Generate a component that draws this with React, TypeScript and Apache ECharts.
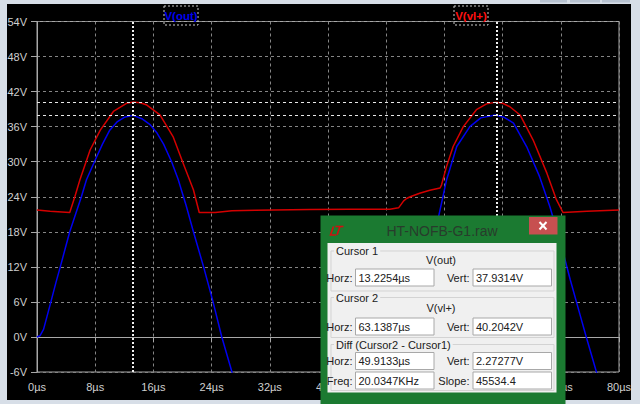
import React, { useEffect, useRef } from "react";
import * as echarts from "echarts";

// ---- data ----
const seriesNames = ["V(out)", "V(vl+)"];

const tOut = [0, 0.4, 0.9, 1.8, 2.6, 3.2, 4.5, 6.1, 6.8, 8.0, 9.0, 10.0, 11.0, 12.0, 13.2, 14.5, 15.5, 16.5, 17.4, 18.5, 19.4, 20.5, 21.5, 22.9, 24.2, 25.4, 26.8, 27.5,
  48.3, 49.0, 50.4, 51.9, 53.4, 54.8, 55.2, 56.3, 57.7, 59.5, 61.0, 63.0, 64.2, 65.5, 67.3, 69.1, 70.5, 72.1, 73.3, 74.6, 75.5, 76.9, 77.5];
const vOut = [0, 0.2, 1.3, 5.5, 9.3, 12.0, 18.0, 24.0, 26.9, 30.3, 33.0, 35.4, 36.8, 37.6, 37.93, 37.3, 36.4, 34.9, 33.0, 30.0, 27.0, 22.5, 18.0, 12.0, 6.0, 0, -6, -9,
  -9, -6, 0, 6, 12, 18, 20.6, 26.9, 32.6, 36.0, 37.5, 38.0, 37.6, 36.6, 32.6, 27.4, 22.3, 15.5, 9.8, 4.0, 0, -6, -9];

const tVl = [0, 1.8, 4.5, 5.2, 5.9, 7.3, 8.7, 10.5, 12.3, 13.2, 14.2, 15.1, 16.9, 18.7, 20.1, 21.5, 22.3, 24.5, 26.8, 30.0, 37.5, 43.0, 48.5, 49.7, 50.4, 50.8, 51.3, 52.6, 54.0, 55.4, 55.6,
  56.3, 57.2, 58.6, 60.4, 61.8, 63.1, 64.0, 65.0, 66.4, 68.2, 70.1, 71.4, 72.3, 75.6, 80];
const vVl = [21.75, 21.5, 21.3, 24.0, 26.9, 32.0, 35.4, 38.6, 40.0, 40.2, 40.1, 39.7, 38.0, 34.3, 29.7, 25.2, 21.3, 21.3, 21.6, 21.7, 21.8, 21.85, 21.85, 22.1, 23.3, 23.7, 24.0, 24.6, 25.1, 25.5, 26.0,
  29.2, 32.6, 36.0, 38.9, 39.9, 40.2, 40.0, 39.4, 38.0, 33.7, 28.0, 23.5, 21.3, 21.5, 21.75];

const cursorTimes = [13.2254, 63.1387];
const cursorVolts = [37.9314, 40.2042];
// x tick labels fully covered by the cursor dialog in the reference
const hiddenTimeTicks = [48, 56, 64];

const dialogTitle = "HT-NOFB-G1.raw";
const groupTitles = ["Cursor 1", "Cursor 2", "Diff (Cursor2 - Cursor1)"];
const traceNames = ["V(out)", "V(vl+)"];
const leftLabels = ["Horz:", "Horz:", "Horz:", "Freq:"];
const rightLabels = ["Vert:", "Vert:", "Vert:", "Slope:"];
const leftValues = ["13.2254µs", "63.1387µs", "49.9133µs", "20.0347KHz"];
const rightValues = ["37.9314V", "40.2042V", "2.27277V", "45534.4"];

const BLUE = "#0000f0";
const RED = "#d40000";
const FONT = "Liberation Sans";

function buildGraphic() {
  const Z = 100;
  const els: any[] = [];
  const frame = "#d7dee7";
  // window frame
  els.push({ type: "rect", z: Z, shape: { x: 0, y: 0, width: 640, height: 4 }, style: { fill: frame } });
  els.push({ type: "rect", z: Z, shape: { x: 0, y: 0, width: 7, height: 404 }, style: { fill: frame } });
  els.push({ type: "rect", z: Z, shape: { x: 631, y: 0, width: 9, height: 404 }, style: { fill: frame } });
  els.push({ type: "rect", z: Z, shape: { x: 0, y: 400, width: 640, height: 4 }, style: { fill: frame } });
  [[540, 27], [570, 30], [602, 28]].forEach(([x, w]) =>
    els.push({ type: "rect", z: Z, shape: { x, y: 0, width: w, height: 2.5 }, style: { fill: "#b7c2d0" } })
  );
  // legend labels
  const legendX = [181, 471];
  const legendCol = [BLUE, "#ff1010"];
  seriesNames.forEach((n, i) => {
    els.push({ type: "rect", z: Z, shape: { x: legendX[i] - 17, y: 6, width: 34, height: 19 }, style: { fill: "none", stroke: "#c8c8c8", lineWidth: 1, lineDash: [2, 2] } });
    els.push({ type: "text", z: Z, style: { text: n, x: legendX[i], y: 16, fill: legendCol[i], font: `bold 11.5px "${FONT}"`, textAlign: "center", textVerticalAlign: "middle" } });
  });
  // dialog
  els.push({ type: "rect", z: Z, shape: { x: 320.5, y: 215.5, width: 245, height: 188.5 }, style: { fill: "#1b7a31" } });
  els.push({ type: "rect", z: Z, shape: { x: 529, y: 217, width: 28.5, height: 17.5 }, style: { fill: "#c75050" } });
  els.push({ type: "line", z: Z + 1, shape: { x1: 539.5, y1: 222, x2: 546.5, y2: 229.5 }, style: { stroke: "#fff", lineWidth: 2 } });
  els.push({ type: "line", z: Z + 1, shape: { x1: 546.5, y1: 222, x2: 539.5, y2: 229.5 }, style: { stroke: "#fff", lineWidth: 2 } });
  els.push({ type: "polyline", z: Z + 1, shape: { points: [[333.5, 226.5], [330.5, 235], [336, 235]] }, style: { stroke: "#d01010", lineWidth: 1.6, fill: "none" } });
  els.push({ type: "polyline", z: Z + 1, shape: { points: [[335.5, 226.5], [343.5, 226.5]] }, style: { stroke: "#d01010", lineWidth: 1.6, fill: "none" } });
  els.push({ type: "polyline", z: Z + 1, shape: { points: [[340, 226.5], [337, 235]] }, style: { stroke: "#d01010", lineWidth: 1.6, fill: "none" } });
  els.push({ type: "text", z: Z + 1, style: { text: dialogTitle, x: 442, y: 231, fill: "#283c2c", font: `14px "${FONT}"`, textAlign: "center", textVerticalAlign: "middle" } });
  els.push({ type: "rect", z: Z + 1, shape: { x: 327.5, y: 243, width: 229, height: 149.5 }, style: { fill: "#f0f0f0" } });
  // group boxes
  const groups = [
    { y: 251, h: 40 },
    { y: 297.5, h: 40 },
    { y: 344.5, h: 46 },
  ];
  groups.forEach((g, i) => {
    els.push({ type: "rect", z: Z + 2, shape: { x: 331, y: g.y, width: 223, height: g.h }, style: { fill: "none", stroke: "#d3d3d3", lineWidth: 1 } });
    els.push({ type: "text", z: Z + 3, style: { text: groupTitles[i], x: 334, y: g.y, fill: "#202020", font: `11px "${FONT}"`, textAlign: "left", textVerticalAlign: "middle", backgroundColor: "#f0f0f0", padding: [0, 2] } });
  });
  const traceY = [259.5, 308];
  traceNames.forEach((n, i) =>
    els.push({ type: "text", z: Z + 3, style: { text: n, x: 441, y: traceY[i], fill: "#202020", font: `11px "${FONT}"`, textAlign: "center", textVerticalAlign: "middle" } })
  );
  const rowY = [269, 318, 352.5, 372];
  rowY.forEach((y, i) => {
    els.push({ type: "rect", z: Z + 3, shape: { x: 355.5, y, width: 78.5, height: 17 }, style: { fill: "#ffffff", stroke: "#a8a8a8", lineWidth: 1 } });
    els.push({ type: "rect", z: Z + 3, shape: { x: 473, y, width: 78.5, height: 17 }, style: { fill: "#ffffff", stroke: "#a8a8a8", lineWidth: 1 } });
    els.push({ type: "text", z: Z + 4, style: { text: leftLabels[i], x: 352.5, y: y + 8.5, fill: "#202020", font: `11px "${FONT}"`, textAlign: "right", textVerticalAlign: "middle" } });
    els.push({ type: "text", z: Z + 4, style: { text: rightLabels[i], x: 469.5, y: y + 8.5, fill: "#202020", font: `11px "${FONT}"`, textAlign: "right", textVerticalAlign: "middle" } });
    els.push({ type: "text", z: Z + 4, style: { text: leftValues[i], x: 358.5, y: y + 8.5, fill: "#202020", font: `11px "${FONT}"`, textAlign: "left", textVerticalAlign: "middle" } });
    els.push({ type: "text", z: Z + 4, style: { text: rightValues[i], x: 476, y: y + 8.5, fill: "#202020", font: `11px "${FONT}"`, textAlign: "left", textVerticalAlign: "middle" } });
  });
  return els;
}

export default function App() {
  const ref = useRef<HTMLDivElement>(null);
  useEffect(() => {
    if (!ref.current) return;
    const chart = echarts.init(ref.current, undefined, { renderer: "svg" });
    const axisCol = "#a8a8a8";
    const labelStyle = { color: "#cfcfcf", fontFamily: FONT, fontSize: 11 };
    chart.setOption({
      animation: false,
      backgroundColor: "#000000",
      grid: { left: 37, right: 21, top: 21.5, bottom: 32, show: true, borderColor: axisCol, borderWidth: 1, backgroundColor: "transparent" },
      xAxis: {
        type: "value", min: 0, max: 80, interval: 8,
        axisLine: { show: true, lineStyle: { color: axisCol } },
        axisTick: { show: true, length: 5, lineStyle: { color: axisCol } },
        axisLabel: { ...labelStyle, margin: 9, formatter: (v: number) => (hiddenTimeTicks.includes(v) ? "" : `${v}µs`) },
        splitLine: { show: true, lineStyle: { color: "#858585", type: [3, 3], width: 1 } },
      },
      yAxis: {
        type: "value", min: -6, max: 54, interval: 6,
        axisLine: { show: true, lineStyle: { color: axisCol } },
        axisTick: { show: true, length: 6, lineStyle: { color: axisCol } },
        axisLabel: { ...labelStyle, margin: 10, formatter: (v: number) => `${v}V` },
        splitLine: { show: true, lineStyle: { color: "#858585", type: [3, 3], width: 1 } },
      },
      series: [
        {
          name: seriesNames[0], type: "line", showSymbol: false, clip: true,
          data: tOut.map((t, i) => [t, vOut[i]]),
          lineStyle: { color: BLUE, width: 1.5 }, itemStyle: { color: BLUE },
          markLine: {
            silent: true, symbol: ["none", "none"], label: { show: false },
            data: [
              ...cursorTimes.map((t) => ({ xAxis: t, lineStyle: { color: "#f0f0f0", width: 2, type: [2, 2] } })),
              ...cursorVolts.map((v) => ({ yAxis: v, lineStyle: { color: "#e8e8e8", width: 1, type: [3, 3] } })),
            ],
          },
        },
        {
          name: seriesNames[1], type: "line", showSymbol: false, clip: true,
          data: tVl.map((t, i) => [t, vVl[i]]),
          lineStyle: { color: RED, width: 1.5 }, itemStyle: { color: RED },
        },
      ],
      graphic: buildGraphic(),
    });
    return () => chart.dispose();
  }, []);
  return <div ref={ref} style={{ position: "fixed", left: 0, top: 0, width: 640, height: 404 }} />;
}
